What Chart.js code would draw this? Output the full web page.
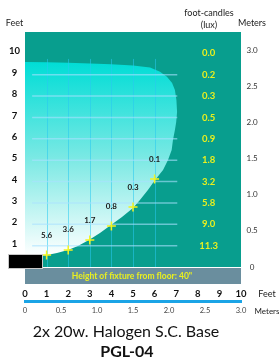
<!DOCTYPE html>
<html><head><meta charset="utf-8">
<script src="https://cdn.jsdelivr.net/npm/chart.js@4.4.0/dist/chart.umd.min.js"></script>
<style>html,body{margin:0;padding:0;background:#fff;}#wrap{width:279px;height:364px;position:relative;}</style>
</head><body><div id="wrap"><canvas id="c"></canvas></div>
<script>
// ---- data ----
const pointDistFt = [1, 2, 3, 4, 5, 6];
const pointHeightFt = [0.56, 0.8, 1.26, 1.92, 2.81, 4.12];
const pointLabels = ['5.6', '3.6', '1.7', '0.8', '0.3', '0.1'];
const fcHeightsFt = [10, 9, 8, 7, 6, 5, 4, 3, 2, 1];
const fcValues = ['0.0', '0.2', '0.3', '0.5', '0.9', '1.8', '3.2', '5.8', '9.0', '11.3'];
const leftFeetTicks = [1, 2, 3, 4, 5, 6, 7, 8, 9, 10];
const rightMeterTicks = [0, 0.5, 1.0, 1.5, 2.0, 2.5, 3.0];
const bottomFeetTicks = [0, 1, 2, 3, 4, 5, 6, 7, 8, 9, 10];
const bottomMeterTicks = [0, 0.5, 1.0, 1.5, 2.0, 2.5, 3.0];
const hGridFt = [1, 2, 3, 4, 5, 6, 7, 8, 9];
const vGridFt = [1, 2, 3, 4, 5, 6];
const beamX = [0, 1.02, 1.99, 3.01, 3.98, 5.0, 5.79, 6.25, 6.57, 6.81, 6.94, 7.01, 7.04, 7.0, 6.94, 6.85, 6.79, 6.62, 6.39, 6.02, 5.69, 5.32, 5.0, 4.49, 3.98, 3.47, 2.96, 2.45, 1.99, 1.48, 1.02, 0.46, 0];
const beamY = [9.6, 9.58, 9.56, 9.53, 9.49, 9.43, 9.34, 9.14, 8.91, 8.61, 8.29, 7.82, 7.26, 6.79, 6.41, 5.95, 5.48, 5.01, 4.54, 4.07, 3.6, 3.14, 2.76, 2.34, 1.97, 1.59, 1.26, 0.98, 0.8, 0.66, 0.56, 0.49, 0.47];
const fixtureText = 'Height of fixture from floor: 40"';
const titleText = '2x 20w. Halogen S.C. Base';
const modelText = 'PGL-04';

const FONT = 'Lato, "Open Sans", sans-serif';
const TEAL = '#089e8e';

const decor = {
  id: 'decor',
  beforeDatasetsDraw(chart) {
    const {ctx, chartArea: a} = chart;
    ctx.save();
    ctx.fillStyle = TEAL;
    ctx.fillRect(a.left, a.top, a.right - a.left, a.bottom - a.top);
    ctx.restore();
  },
  afterDatasetDraw(chart, args) {
    if (args.index !== 0) return;
    const {ctx} = chart;
    const xs = chart.scales.x, ys = chart.scales.y;
    ctx.save();
    ctx.lineWidth = 1;
    ctx.strokeStyle = 'rgba(40,200,240,0.55)';
    vGridFt.forEach(v => {
      const px = Math.round(xs.getPixelForValue(v)) + 0.5;
      ctx.beginPath();
      ctx.moveTo(px, ys.getPixelForValue(9.74));
      ctx.lineTo(px, ys.getPixelForValue(0));
      ctx.stroke();
    });
    ctx.lineWidth = 1.5;
    ctx.strokeStyle = 'rgba(170,225,255,0.6)';
    hGridFt.forEach(v => {
      const py = ys.getPixelForValue(v);
      ctx.beginPath();
      ctx.moveTo(xs.getPixelForValue(0.33), py);
      ctx.lineTo(xs.getPixelForValue(7.05), py);
      ctx.stroke();
    });
    ctx.restore();
  },
  afterDatasetsDraw(chart) {
    const {ctx, chartArea: a} = chart;
    const xs = chart.scales.x, ys = chart.scales.y;
    ctx.save();
    // point value labels
    const meta = chart.getDatasetMeta(1);
    ctx.font = `bold 8px ${FONT}`;
    ctx.fillStyle = '#1a1a1a';
    ctx.textAlign = 'center';
    ctx.textBaseline = 'middle';
    meta.data.forEach((el, i) => {
      ctx.fillText(pointLabels[i], el.x, el.y - 20);
    });
    // foot-candle values
    ctx.font = `bold 9.5px ${FONT}`;
    ctx.fillStyle = '#eaf01e';
    fcHeightsFt.forEach((h, i) => {
      ctx.fillText(fcValues[i], xs.getPixelForValue(8.5), ys.getPixelForValue(h));
    });
    ctx.restore();
  },
  afterDraw(chart) {
    const {ctx, chartArea: a} = chart;
    ctx.save();
    // fixture floor band
    ctx.fillStyle = '#6a8e9e';
    ctx.fillRect(a.left, a.bottom + 1, a.right - a.left, 16);
    ctx.font = `bold 8.5px ${FONT}`;
    ctx.fillStyle = '#eaf01e';
    ctx.textAlign = 'center';
    ctx.textBaseline = 'middle';
    ctx.fillText(fixtureText, 132, a.bottom + 9.5);
    // fixture block
    ctx.fillStyle = '#000';
    ctx.fillRect(a.left - 16, a.bottom - 12, 33, 13);
    ctx.strokeStyle = '#c8c8c8';
    ctx.lineWidth = 1;
    ctx.strokeRect(a.left - 16.5, a.bottom - 12.5, 34, 14);
    // headers
    ctx.fillStyle = '#222';
    ctx.font = `9px ${FONT}`;
    ctx.fillText('Feet', 14.5, 23);
    ctx.fillText('foot-candles', 209, 13);
    ctx.fillText('(lux)', 209, 25);
    ctx.fillText('Meters', 252, 23);
    ctx.fillText('Feet', 267, 294);
    ctx.font = `8px ${FONT}`;
    ctx.fillText('Meters', 267, 311);
    // titles
    ctx.fillStyle = '#111';
    ctx.font = `16px ${FONT}`;
    ctx.fillText(titleText, 126, 332);
    ctx.font = `bold 16px ${FONT}`;
    ctx.fillText(modelText, 127, 352);
    ctx.restore();
  }
};

new Chart(document.getElementById('c'), {
  type: 'line',
  data: {
    datasets: [
      {
        data: beamX.map((x, i) => ({x, y: beamY[i]})),
        showLine: true,
        fill: 'shape',
        borderWidth: 0,
        pointRadius: 0,
        tension: 0,
        order: 1,
        backgroundColor: (c) => {
          const ch = c.chart;
          if (!ch.chartArea) return '#00ddd6';
          const ys = ch.scales.y;
          const g = ch.ctx.createLinearGradient(0, ys.getPixelForValue(Math.max(...beamY)), 0, ys.getPixelForValue(0.5));
          g.addColorStop(0, '#00ddd6');
          g.addColorStop(0.5, '#7ce9e4');
          g.addColorStop(1, '#ffffff');
          return g;
        }
      },
      {
        data: pointDistFt.map((x, i) => ({x, y: pointHeightFt[i]})),
        showLine: false,
        pointStyle: 'cross',
        pointRadius: 4.5,
        borderColor: '#f4f41e',
        borderWidth: 1.5,
        order: 0
      }
    ]
  },
  options: {
    responsive: true,
    maintainAspectRatio: false,
    animation: false,
    events: [],
    layout: {padding: {top: 32, left: 0, right: 0, bottom: 43}},
    plugins: {legend: {display: false}, tooltip: {enabled: false}},
    scales: {
      x: {
        type: 'linear', position: 'bottom', min: 0, max: 10, weight: 1,
        afterBuildTicks: s => { s.ticks = bottomFeetTicks.map(v => ({value: v})); },
        afterFit: s => { s.height = 34; },
        grid: {display: false, drawTicks: false},
        border: {display: false},
        ticks: {font: {family: FONT, size: 9.5, weight: 'bold'}, color: '#111', padding: 21, maxRotation: 0, autoSkip: false}
      },
      x2: {
        type: 'linear', position: 'bottom', min: 0, max: 3.0, weight: 2,
        afterBuildTicks: s => { s.ticks = bottomMeterTicks.map(v => ({value: v})); },
        afterFit: s => { s.height = 20; },
        grid: {display: false, drawTicks: false},
        border: {display: true, color: '#1ba4e6', width: 3},
        ticks: {font: {family: FONT, size: 7.5}, color: '#444', padding: 5, maxRotation: 0, autoSkip: false,
          callback: v => v === 0 ? '0' : v.toFixed(1)}
      },
      y: {
        type: 'linear', position: 'left', min: 0, max: 11,
        afterBuildTicks: s => { s.ticks = leftFeetTicks.map(v => ({value: v})); },
        afterFit: s => { s.width = 25; },
        grid: {display: false, drawTicks: false},
        border: {display: false},
        ticks: {font: {family: FONT, size: 9.5, weight: 'bold'}, color: '#111', padding: 5, crossAlign: 'center', labelOffset: -2, autoSkip: false}
      },
      y2: {
        type: 'linear', position: 'right', min: 0, max: 3.25,
        afterBuildTicks: s => { s.ticks = rightMeterTicks.map(v => ({value: v})); },
        afterFit: s => { s.width = 38; },
        grid: {display: false, drawTicks: false},
        border: {display: false},
        ticks: {font: {family: FONT, size: 8}, color: '#333', padding: 5.5, crossAlign: 'center', autoSkip: false,
          callback: v => v === 0 ? '0' : v.toFixed(1)}
      }
    }
  },
  plugins: [decor]
});
</script>
</body></html>
